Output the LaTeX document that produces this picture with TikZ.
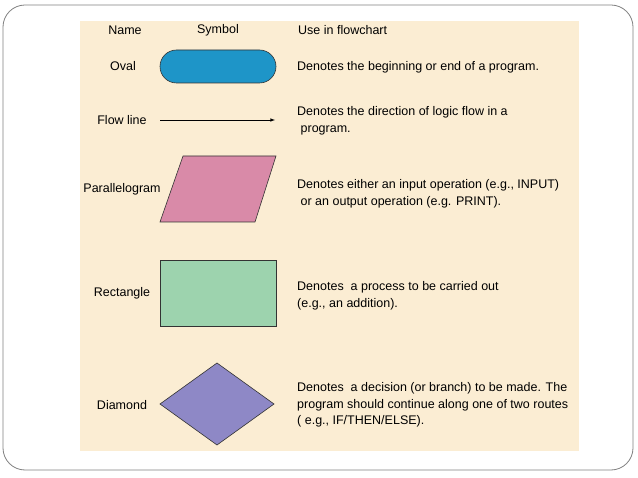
\documentclass[tikz,border=0pt]{standalone}
\usepackage{fontspec}
\setmainfont{Liberation Sans}
\definecolor{beige}{HTML}{FBEDD3}
\definecolor{ovalc}{HTML}{1E95C8}
\definecolor{parac}{HTML}{D98AA8}
\definecolor{rectc}{HTML}{9DD3AE}
\definecolor{diac}{HTML}{8E88C6}
\begin{document}
\begin{tikzpicture}[x=1pt,y=-1pt,
  lbl/.style={font=\fontsize{12.5}{15}\selectfont,inner sep=0pt},
  use/.style={font=\fontsize{12.5}{16.5}\selectfont,inner sep=0pt,anchor=west,align=left},
  sym/.style={draw=black!80,line width=0.6pt}]
\useasboundingbox (0,0) rectangle (638,478);
\draw[black!50,line width=0.8pt,rounded corners=22pt] (3,5) rectangle (633,470);
\fill[beige] (80,21) rectangle (579,451);
\node[lbl] (hn) at (125,30) {Name};
\node[lbl] (hs) at (218,30) {Symbol};
\node[lbl,anchor=west] (hu) at (298,30) {Use in flowchart};
% Oval
\node[lbl] (n1) at (123,66) {Oval};
\draw[sym,fill=ovalc,rounded corners=16.5pt] (160,50) rectangle (276,83);
\node[use] (u1) at (297,67) {Denotes the beginning or end of a program.};
% Flow line
\node[lbl] (n2) at (122,120) {Flow line};
\coordinate (fa) at (160,120); \coordinate (fb) at (275,120);
\draw[-latex,line width=0.6pt] (fa) -- (fb);
\node[use] (u2) at (297,121) {Denotes the direction of logic flow in a\\\ program.};
% Parallelogram
\node[lbl] (n3) at (122,189) {Parallelogram};
\draw[sym,fill=parac] (183,156) -- (276,156) -- (255,222) -- (160,222) -- cycle;
\node[use] (u3) at (297,194) {Denotes either an input operation (e.g., INPUT)\\\ or an output operation (e.g. PRINT).};
% Rectangle
\node[lbl] (n4) at (122,293) {Rectangle};
\draw[sym,fill=rectc] (160,260) rectangle (276,326);
\node[use] (u4) at (297,296) {Denotes\ \ a process to be carried out\\(e.g., an addition).};
% Diamond
\node[lbl] (n5) at (122,405) {Diamond};
\draw[sym,fill=diac] (160,404) -- (217,363) -- (274,404) -- (217,445) -- cycle;
\node[use] (u5) at (297,405) {Denotes\ \ a decision (or branch) to be made. The\\program should continue along one of two routes\\( e.g., IF/THEN/ELSE).};
\end{tikzpicture}
\end{document}
